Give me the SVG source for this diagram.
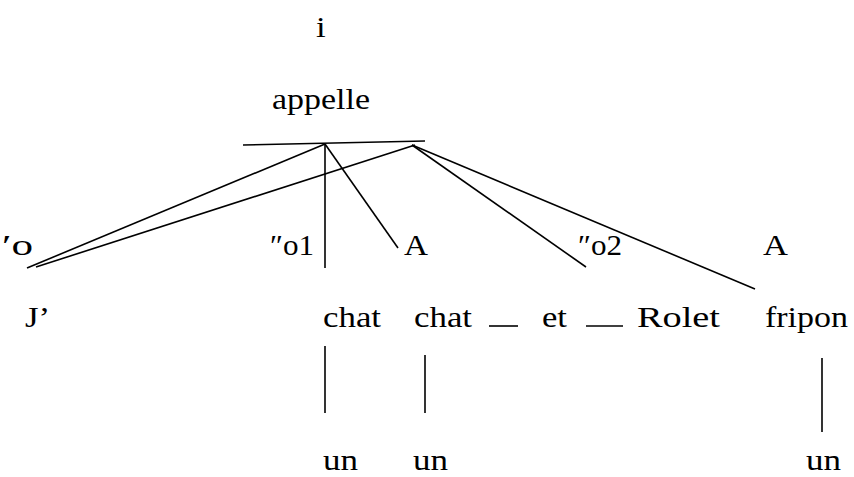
<svg xmlns="http://www.w3.org/2000/svg" width="854" height="477" viewBox="0 0 854 477">
  <rect width="854" height="477" fill="#fff"/>

  <!-- connectors -->
  <g id="connectors" stroke="#000" stroke-width="1.6" fill="none">
    <line x1="243" y1="145" x2="425" y2="141" stroke="#000" stroke-width="1.6"/>
    <line x1="325" y1="144" x2="27" y2="268" stroke="#000" stroke-width="1.6"/>
    <line x1="415" y1="145" x2="36" y2="267" stroke="#000" stroke-width="1.6"/>
    <line x1="325" y1="144" x2="325" y2="268" stroke="#000" stroke-width="1.6"/>
    <line x1="325" y1="144" x2="398" y2="248" stroke="#000" stroke-width="1.6"/>
    <line x1="412" y1="145" x2="586" y2="267" stroke="#000" stroke-width="1.6"/>
    <line x1="412" y1="145" x2="755" y2="289" stroke="#000" stroke-width="1.6"/>
    <line x1="489" y1="326" x2="518" y2="326" stroke="#000" stroke-width="1.6"/>
    <line x1="586" y1="326" x2="623" y2="326" stroke="#000" stroke-width="1.6"/>
    <line x1="325" y1="346" x2="325" y2="413" stroke="#000" stroke-width="1.6"/>
    <line x1="425" y1="355" x2="425" y2="413" stroke="#000" stroke-width="1.6"/>
    <line x1="822" y1="358" x2="822" y2="432" stroke="#000" stroke-width="1.6"/>
  </g>

  <!-- word nodes: set at 40px and scaled to the slightly wide 29px face -->
  <g id="n-i"><text transform="translate(316 37) scale(0.87 0.725)" font-family="Liberation Serif" font-size="40">i</text></g>
  <g id="n-appelle"><text transform="translate(272 109) scale(0.87 0.725)" font-family="Liberation Serif" font-size="40" textLength="112.6" lengthAdjust="spacingAndGlyphs">appelle</text></g>

  <g id="n-o"><text transform="translate(2 255) scale(0.87 0.725)" font-family="Liberation Serif" font-size="40" textLength="35.6" lengthAdjust="spacingAndGlyphs">&#8242;o</text></g>
  <g id="n-o1"><text transform="translate(270 255) scale(0.87 0.725)" font-family="Liberation Serif" font-size="40" textLength="50.6" lengthAdjust="spacingAndGlyphs">&#8243;o1</text></g>
  <g id="n-A1"><text transform="translate(404 255) scale(0.87 0.725)" font-family="Liberation Serif" font-size="40" textLength="27.6" lengthAdjust="spacingAndGlyphs">A</text></g>
  <g id="n-o2"><text transform="translate(578 255) scale(0.87 0.725)" font-family="Liberation Serif" font-size="40" textLength="50.6" lengthAdjust="spacingAndGlyphs">&#8243;o2</text></g>
  <g id="n-A2"><text transform="translate(763 255) scale(0.87 0.725)" font-family="Liberation Serif" font-size="40" textLength="28.7" lengthAdjust="spacingAndGlyphs">A</text></g>

  <g id="n-J"><text transform="translate(25 327) scale(0.87 0.725)" font-family="Liberation Serif" font-size="40">J&#8217;</text></g>
  <g id="n-chat1"><text transform="translate(323 327) scale(0.87 0.725)" font-family="Liberation Serif" font-size="40" textLength="66.7" lengthAdjust="spacingAndGlyphs">chat</text></g>
  <g id="n-chat2"><text transform="translate(414 327) scale(0.87 0.725)" font-family="Liberation Serif" font-size="40" textLength="66.7" lengthAdjust="spacingAndGlyphs">chat</text></g>
  <g id="n-et"><text transform="translate(542 327) scale(0.87 0.725)" font-family="Liberation Serif" font-size="40" textLength="28.7" lengthAdjust="spacingAndGlyphs">et</text></g>
  <g id="n-Rolet"><text transform="translate(637 327) scale(0.87 0.725)" font-family="Liberation Serif" font-size="40" textLength="95.4" lengthAdjust="spacingAndGlyphs">Rolet</text></g>
  <g id="n-fripon"><text transform="translate(765 327) scale(0.87 0.725)" font-family="Liberation Serif" font-size="40" textLength="95.4" lengthAdjust="spacingAndGlyphs">fripon</text></g>

  <g id="n-un1"><text transform="translate(323 470) scale(0.87 0.725)" font-family="Liberation Serif" font-size="40" textLength="40.2" lengthAdjust="spacingAndGlyphs">un</text></g>
  <g id="n-un2"><text transform="translate(413 470) scale(0.87 0.725)" font-family="Liberation Serif" font-size="40" textLength="40.2" lengthAdjust="spacingAndGlyphs">un</text></g>
  <g id="n-un3"><text transform="translate(806 470) scale(0.87 0.725)" font-family="Liberation Serif" font-size="40" textLength="40.2" lengthAdjust="spacingAndGlyphs">un</text></g>
</svg>
